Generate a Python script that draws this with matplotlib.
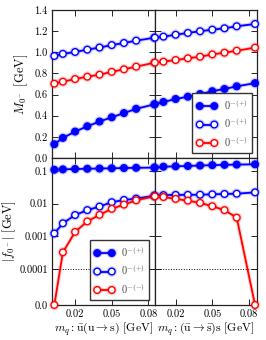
import numpy as np
import matplotlib
matplotlib.use("Agg")
import matplotlib.pyplot as plt
import matplotlib.patheffects as pe

plt.rcParams['font.family'] = ['cmr10', 'DejaVu Serif']
plt.rcParams['mathtext.fontset'] = 'cm'
plt.rcParams['axes.formatter.use_mathtext'] = True
plt.rcParams['axes.unicode_minus'] = False

# --- datos ---
m_left = [0.003, 0.01, 0.02, 0.03, 0.04, 0.05, 0.06, 0.07, 0.085]   # u -> s
m_right = [0.003, 0.01, 0.02, 0.03, 0.04, 0.05, 0.06, 0.07, 0.085]  # ubar -> sbar

# masas [GeV]
M_ps_left = [0.13, 0.19, 0.25, 0.30, 0.345, 0.385, 0.425, 0.465, 0.508]
M_ps_right = [0.508, 0.53, 0.558, 0.58, 0.605, 0.632, 0.653, 0.678, 0.708]
M_exc_left = [0.965, 0.985, 1.003, 1.025, 1.045, 1.068, 1.088, 1.11, 1.138]
M_exc_right = [1.138, 1.148, 1.166, 1.183, 1.199, 1.214, 1.227, 1.246, 1.268]
M_exo_left = [0.703, 0.722, 0.747, 0.769, 0.788, 0.815, 0.839, 0.864, 0.902]
M_exo_right = [0.902, 0.911, 0.927, 0.943, 0.958, 0.98, 0.996, 1.015, 1.044]

# constantes de decaimiento |f| [GeV]
f_ps_left = [0.109, 0.112, 0.115, 0.117, 0.119, 0.121, 0.123, 0.125, 0.127]
f_ps_right = [0.127, 0.135, 0.139, 0.142, 0.147, 0.151, 0.154, 0.157, 0.160]
f_exc_left = [0.00121, 0.00248, 0.00445, 0.0063, 0.0081, 0.0110, 0.0129, 0.0142, 0.0175]
f_exc_right = [0.0175, 0.0182, 0.0184, 0.0185, 0.0187, 0.0192, 0.0197, 0.0201, 0.0221]
f_exo_left = [0.0, 0.00032, 0.00135, 0.00284, 0.00451, 0.0069, 0.0093, 0.0126, 0.0167]
f_exo_right = [0.0167, 0.0159, 0.0139, 0.0123, 0.0105, 0.0083, 0.0063, 0.0037, 0.0]

labels = [r'$0^{-(+)}$', r'$0^{-(+)}$', r'$0^{-(-)}$']
xticks = [0.02, 0.05, 0.08]
xtick_labels = ['0.02', '0.05', '0.08']
M_ticks = [0.0, 0.2, 0.4, 0.6, 0.8, 1.0, 1.2, 1.4]
f_ticks = [0.0, 0.0001, 0.001, 0.01, 0.1]
f_tick_labels = ['0.0', '0.0001', '0.001', '0.01', '0.1']


def curve(ax, x, y, color, filled, label=None):
    glow = [pe.Stroke(linewidth=2.8, foreground=color, alpha=0.18), pe.Normal()]
    ax.plot(x, y, '-o', color=color, lw=1.3, ms=4.8, mew=1.0,
            mfc=color if filled else 'white', mec=color,
            clip_on=False, zorder=3, label=label, path_effects=glow)


fig = plt.figure(figsize=(2.66, 3.40), dpi=100)
L, R, T, MID, B = 52/266, 257/266, 1-10/340, 1-158/340, 1-305/340
W = (R - L) / 2
ax_tl = fig.add_axes([L, MID, W, T - MID])
ax_tr = fig.add_axes([L + W, MID, W, T - MID])
ax_bl = fig.add_axes([L, B, W, MID - B])
ax_br = fig.add_axes([L + W, B, W, MID - B])

# --- masas ---
for ax, x, ys in [(ax_tl, m_left, (M_ps_left, M_exc_left, M_exo_left)),
                  (ax_tr, m_right, (M_ps_right, M_exc_right, M_exo_right))]:
    curve(ax, x, ys[0], 'blue', True, labels[0])
    curve(ax, x, ys[1], 'blue', False, labels[1])
    curve(ax, x, ys[2], 'red', False, labels[2])
    ax.set_ylim(0, 1.4)
    ax.set_yticks(M_ticks)

ax_tl.set_yticklabels(['%.1f' % v for v in M_ticks])
ax_tr.set_yticklabels([])
ax_tl.set_ylabel(r'$M_{0^-}\ [\mathrm{GeV}]$', fontsize=9, labelpad=3)

# --- constantes de decaimiento ---
for ax, x, ys in [(ax_bl, m_left, (f_ps_left, f_exc_left, f_exo_left)),
                  (ax_br, m_right, (f_ps_right, f_exc_right, f_exo_right))]:
    curve(ax, x, ys[0], 'blue', True, labels[0])
    curve(ax, x, ys[1], 'blue', False, labels[1])
    curve(ax, x, ys[2], 'red', False, labels[2])
    ax.set_yscale('symlog', linthresh=1e-4, linscale=1.0)
    ax.set_ylim(0, 0.25)
    ax.set_yticks(f_ticks)
    ax.yaxis.set_minor_locator(matplotlib.ticker.NullLocator())
    ax.axhline(1e-4, color='black', ls=':', lw=0.7, zorder=1)

ax_bl.set_yticklabels(f_tick_labels)
ax_br.set_yticklabels([])
ax_bl.set_ylabel(r'$|f_{0^-}|\ [\mathrm{GeV}]$', fontsize=9, labelpad=1)

# --- ejes x ---
ax_tl.set_xlim(0.0011, 0.085)
ax_bl.set_xlim(0.0011, 0.085)
ax_tr.set_xlim(0.0027, 0.0866)
ax_br.set_xlim(0.0027, 0.0866)
for ax in (ax_tl, ax_tr, ax_bl, ax_br):
    ax.set_xticks(xticks)
    ax.tick_params(which='both', direction='in', top=True, right=True,
                   length=4, width=0.6, labelsize=7.5, pad=3)
    for sp in ax.spines.values():
        sp.set_linewidth(0.9)
        sp.set_color('#222222')
for ax in (ax_tl, ax_tr):
    ax.set_xticklabels([])
for ax in (ax_bl, ax_br):
    ax.set_xticklabels(xtick_labels)

ax_bl.set_xlabel(r'$m_q: \bar{\mathrm{u}}(\mathrm{u}\rightarrow\mathrm{s})\ [\mathrm{GeV}]$',
                 fontsize=8.5, labelpad=2)
ax_br.set_xlabel(r'$m_q: (\bar{\mathrm{u}}\rightarrow\bar{\mathrm{s}})\mathrm{s}\ [\mathrm{GeV}]$',
                 fontsize=8.5, labelpad=2)

# --- leyendas ---
for ax in (ax_tr, ax_bl):
    leg = ax.legend(loc='lower right', fontsize=7.5, numpoints=2, handlelength=2.0,
                    fancybox=False, framealpha=1, borderaxespad=0.5,
                    labelspacing=0.4, borderpad=0.4, handletextpad=0.6)
    leg.get_frame().set_edgecolor('#333333')
    leg.get_frame().set_linewidth(1.0)
    for t in leg.get_texts():
        t.set_color('#444444')

fig.savefig('out.png', dpi=100)
